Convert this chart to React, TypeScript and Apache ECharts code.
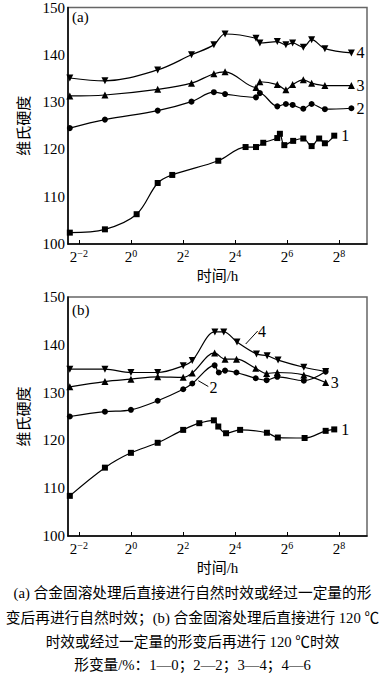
import React, { useEffect, useRef } from "react";
import * as echarts from "echarts";

// x values are log2(time in hours)
const aX1 = [-2.35, -1.0, 0.22, 1.03, 1.59, 3.36, 4.41, 4.81, 5.09, 5.63, 5.73, 5.9, 6.24, 6.63, 6.95, 7.24, 7.46, 7.82];
const aY1 = [102.4, 103.1, 106.3, 112.9, 114.6, 117.6, 120.5, 120.5, 121.4, 122.4, 123.3, 120.9, 121.8, 122.3, 120.7, 122.3, 121.3, 122.9];
const aX = [-2.35, -1.0, 1.03, 2.33, 3.19, 3.62, 4.81, 4.96, 5.63, 5.96, 6.22, 6.63, 6.95, 7.46, 8.48];
const aY2 = [124.5, 126.3, 128.2, 130.1, 132.1, 131.7, 131.0, 131.9, 129.1, 129.6, 129.4, 128.6, 129.6, 128.5, 128.7];
const aY3 = [131.3, 131.5, 132.7, 134.0, 136.0, 136.4, 133.1, 134.3, 133.7, 132.6, 133.7, 134.7, 134.0, 133.5, 133.5];
const aY4 = [135.1, 134.5, 136.8, 140.0, 142.1, 144.4, 143.5, 142.5, 142.8, 142.1, 142.5, 141.6, 143.2, 141.3, 140.4];

const bX1 = [-2.35, -1.0, 0, 1.03, 2.01, 2.63, 3.19, 3.36, 3.66, 4.2, 5.23, 5.65, 6.68, 7.49, 7.82];
const bY1 = [108.4, 114.3, 117.4, 119.5, 122.2, 123.6, 124.2, 122.9, 121.5, 122.2, 121.6, 120.6, 120.5, 122.0, 122.3];
const bX2 = [-2.35, -1.0, 0, 1.03, 2.01, 2.36, 3.22, 3.38, 3.62, 4.06, 4.8, 5.22, 5.63, 6.65, 7.49];
const bY2 = [125.0, 126.0, 126.4, 128.3, 130.7, 131.9, 135.7, 134.2, 134.6, 134.2, 133.0, 132.6, 133.3, 132.5, 134.4];
const bX3 = [-2.35, -1.0, 0, 1.03, 2.01, 2.36, 3.22, 3.62, 4.06, 4.8, 5.22, 5.63, 6.65, 7.49];
const bY3 = [131.2, 132.3, 132.8, 133.3, 133.2, 134.1, 138.3, 137.0, 137.0, 135.1, 134.0, 134.2, 133.7, 132.1];
const bX4 = [-2.35, -1.0, 0, 1.03, 2.01, 2.36, 3.23, 3.57, 4.08, 4.83, 5.24, 5.66, 6.65, 7.49];
const bY4 = [134.9, 134.9, 134.2, 134.2, 135.6, 136.7, 142.7, 142.7, 140.6, 138.1, 137.7, 136.8, 135.3, 134.4];

const xTickExps = [-2, 0, 2, 4, 6, 8];
const yTicks = [100, 110, 120, 130, 140, 150];
const captionLines = [
  "(a) 合金固溶处理后直接进行自然时效或经过一定量的形",
  "变后再进行自然时效；(b) 合金固溶处理后直接进行 120 ℃",
  "时效或经过一定量的形变后再进行 120 ℃时效",
  "形变量/%：1—0；2—2；3—4；4—6",
];

const SERIF = "'Liberation Serif', 'Noto Sans CJK SC', serif";

const zip = (xs: number[], ys: number[]) => xs.map((x, i) => [x, ys[i]]);

export default function App() {
  const ref = useRef<HTMLDivElement>(null);
  useEffect(() => {
    if (!ref.current) return;
    const chart = echarts.init(ref.current, undefined, { renderer: "svg" });

    const mkX = (gi: number) => ({
      type: "value",
      gridIndex: gi,
      min: -2.42,
      max: 9.08,
      name: "时间/h",
      nameLocation: "middle",
      nameGap: 24,
      nameTextStyle: { fontFamily: SERIF, fontSize: 15, color: "#000" },
      axisLine: { show: true, onZero: false, lineStyle: { color: "#000", width: 1.5 } },
      axisTick: { show: true, inside: true, length: 4, customValues: xTickExps, lineStyle: { color: "#000" } },
      splitLine: { show: false },
      axisLabel: {
        customValues: xTickExps,
        margin: 4,
        formatter: (v: number) => `{b|2}{s|${v < 0 ? "−" + -v : v}}`,
        rich: {
          b: { fontSize: 15, fontFamily: SERIF, color: "#000", verticalAlign: "bottom", lineHeight: 17 },
          s: { fontSize: 10, fontFamily: SERIF, color: "#000", verticalAlign: "top", lineHeight: 10 },
        },
      },
    });
    const mkY = (gi: number) => ({
      type: "value",
      gridIndex: gi,
      min: 100,
      max: 150,
      interval: 10,
      name: "维氏硬度",
      nameLocation: "middle",
      nameGap: 35,
      nameTextStyle: { fontFamily: SERIF, fontSize: 15, color: "#000" },
      axisLine: { show: true, onZero: false, lineStyle: { color: "#000", width: 1.5 } },
      axisTick: { show: false },
      splitLine: { show: false },
      axisLabel: {
        margin: 3,
        fontSize: 15,
        fontFamily: SERIF,
        color: "#000",
        customValues: yTicks,
      },
    });

    const mkSeries = (gi: number, data: number[][], symbol: string, rotate: number, size: number, label: string | null, dist: number) => ({
      type: "line",
      xAxisIndex: gi,
      yAxisIndex: gi,
      data,
      smooth: 0.35,
      symbol,
      symbolRotate: rotate,
      symbolSize: size,
      showAllSymbol: true,
      itemStyle: { color: "#000" },
      lineStyle: { color: "#000", width: 1.2 },
      endLabel: label
        ? { show: true, formatter: label, distance: dist, fontSize: 16, fontFamily: SERIF, color: "#000" }
        : { show: false },
    });

    const txt = (text: string, x: number, y: number, align = "center", size = 15) => ({
      type: "text",
      x,
      y,
      style: { text, fontSize: size, fontFamily: SERIF, fill: "#000", align, verticalAlign: "middle" },
    });
    const ln = (x1: number, y1: number, x2: number, y2: number) => ({
      type: "line",
      shape: { x1, y1, x2, y2 },
      style: { stroke: "#000", lineWidth: 1 },
    });

    chart.setOption({
      animation: false,
      backgroundColor: "#fff",
      grid: [
        { left: 68, right: 18, top: 5, height: 239, show: true, borderColor: "#666", borderWidth: 1.5 },
        { left: 68, right: 18, top: 297, height: 239, show: true, borderColor: "#666", borderWidth: 1.5 },
      ],
      xAxis: [mkX(0), mkX(1)],
      yAxis: [mkY(0), mkY(1)],
      series: [
        mkSeries(0, zip(aX1, aY1), "rect", 0, 6, "1", 7),
        mkSeries(0, zip(aX, aY2), "circle", 0, 6, "2", 5),
        mkSeries(0, zip(aX, aY3), "triangle", 0, 7, "3", 5),
        mkSeries(0, zip(aX, aY4), "triangle", 180, 7, "4", 5),
        mkSeries(1, zip(bX1, bY1), "rect", 0, 6, "1", 7),
        mkSeries(1, zip(bX2, bY2), "circle", 0, 6, null, 5),
        mkSeries(1, zip(bX3, bY3), "triangle", 0, 7, "3", 5),
        mkSeries(1, zip(bX4, bY4), "triangle", 180, 7, null, 5),
      ],
      graphic: [
        txt("(a)", 72, 17, "left"),
        txt("(b)", 72, 310, "left"),
        ln(245.7, 344, 257.7, 331),
        txt("4", 262, 331, "center", 16),
        ln(198.3, 380.7, 208.3, 386.5),
        txt("2", 213.5, 387, "center", 16),
        ...captionLines.map((t, i) => txt(t, 192.5, [593, 618, 642, 665][i], "center", 14.7)),
      ],
    });
    return () => chart.dispose();
  }, []);
  return <div ref={ref} style={{ position: "absolute", left: 0, top: 0, width: 385, height: 674 }} />;
}
